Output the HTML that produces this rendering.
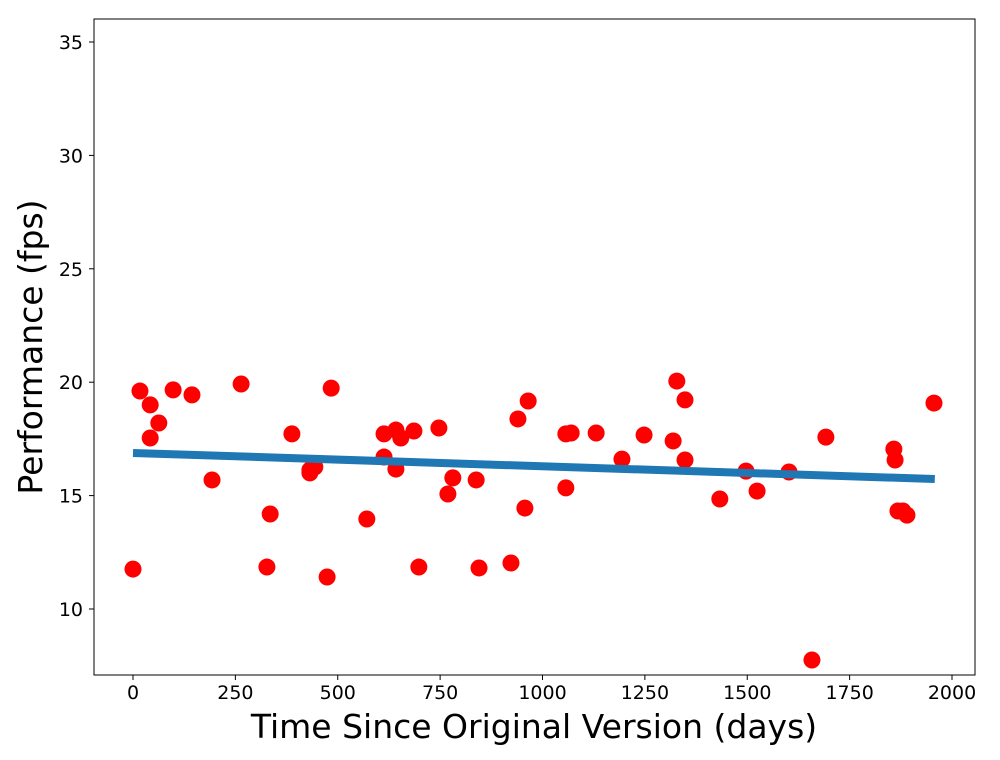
<!DOCTYPE html>
<html><head><meta charset="utf-8"><style>
html,body{margin:0;padding:0;background:#fff;}
svg{display:block;font-family:"DejaVu Sans","Liberation Sans",sans-serif;}
</style></head><body>
<svg id="chart" width="1000" height="760">
<rect x="94" y="19" width="881" height="656" fill="#fff" stroke="#000" stroke-width="1"/>
<g id="ticks"></g>
<g id="marks"></g>
<text x="534" y="738" font-size="33" text-anchor="middle">Time Since Original Version (days)</text>
<text transform="translate(42,347) rotate(-90)" font-size="33" text-anchor="middle">Performance (fps)</text>
</svg>
<script>
const days=[0,17,42,42,63,98,144,193,264,327,335,388,432,432,444,474,484,571,613,613,642,642,654,686,698,747,769,781,838,845,923,940,957,965,1057,1057,1070,1131,1194,1248,1319,1328,1348,1348,1433,1497,1524,1602,1658,1692,1858,1861,1868,1880,1890,1956];
const fps=[11.76,19.61,19.0,17.54,18.2,19.66,19.44,15.69,19.92,11.85,14.19,17.72,16.13,16.0,16.26,11.41,19.74,13.97,17.72,16.70,17.89,16.17,17.54,17.85,11.85,17.98,15.07,15.78,15.69,11.81,12.03,18.38,14.45,19.17,15.34,17.72,17.76,17.76,16.61,17.67,17.41,20.05,19.22,16.57,14.85,16.08,15.2,16.04,7.75,17.58,17.05,16.57,14.32,14.32,14.14,19.08];
const trendX=[0,1958];
const trendY=[16.88,15.73];
const xTicks=[0,250,500,750,1000,1250,1500,1750,2000];
const yTicks=[10,15,20,25,30,35];
const NS="http://www.w3.org/2000/svg";
function sx(d){return 133+d*0.4095;}
function sy(v){return 609-(v-10)*22.68;}
const tg=document.getElementById('ticks');
function mk(tag,attrs,parent){const e=document.createElementNS(NS,tag);for(const k in attrs)e.setAttribute(k,attrs[k]);parent.appendChild(e);return e;}
xTicks.forEach(t=>{
  const l=mk('line',{x1:sx(t),x2:sx(t),y1:675,y2:680,stroke:'#000'},tg);
  
  
  const tx=mk('text',{x:sx(t),y:699,'font-size':19,'text-anchor':'middle'},tg);
  tx.textContent=t;
  
  
});
yTicks.forEach(t=>{
  const l=mk('line',{x1:89,x2:94,y1:sy(t),y2:sy(t),stroke:'#000'},tg);
  
  
  const tx=mk('text',{x:83,y:sy(t)+7,'font-size':19,'text-anchor':'end'},tg);
  tx.textContent=t;
  
  
});
const mg=document.getElementById('marks');
days.forEach((d,i)=>{
  const c=mk('circle',{cx:sx(d),cy:sy(fps[i]),r:8.5,fill:'#ff0000'},mg);
  
  
});
const tl=mk('line',{x1:sx(trendX[0]),y1:sy(trendY[0]),x2:sx(trendX[1]),y2:sy(trendY[1]),stroke:'#1f77b4','stroke-width':8},mg);


</script>
</body></html>
